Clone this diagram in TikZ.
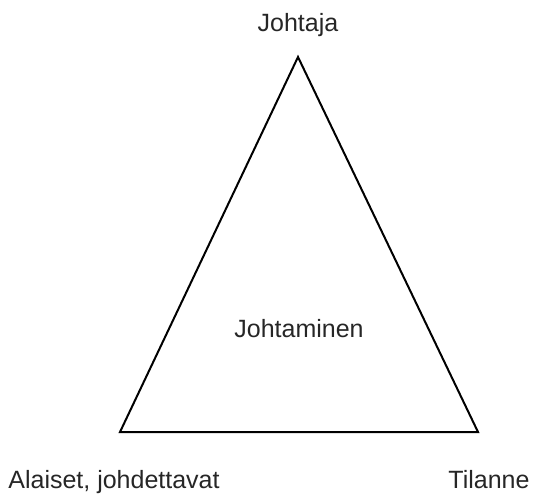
\documentclass[tikz,border=0pt]{standalone}
\usepackage{fontspec}
\setmainfont{Liberation Sans}
\begin{document}
\begin{tikzpicture}[x=1pt,y=-1pt,
  lbl/.style={anchor=base,inner sep=0pt,font=\fontsize{25}{30}\selectfont,text=black!85}]
\useasboundingbox (0,0) rectangle (533,494);
\coordinate (top) at (298,57);
\coordinate (bl) at (120,432);
\coordinate (br) at (478,432);
\draw[line width=2pt,line join=miter] (top) -- (br) -- (bl) -- cycle;
\node[lbl] (johtaja) at (298,32) {Johtaja};
\node[lbl] (johtaminen) at (299,338) {Johtaminen};
\node[lbl] (alaiset) at (114,488) {Alaiset, johdettavat};
\node[lbl] (tilanne) at (489,488) {Tilanne};
\end{tikzpicture}
\end{document}
